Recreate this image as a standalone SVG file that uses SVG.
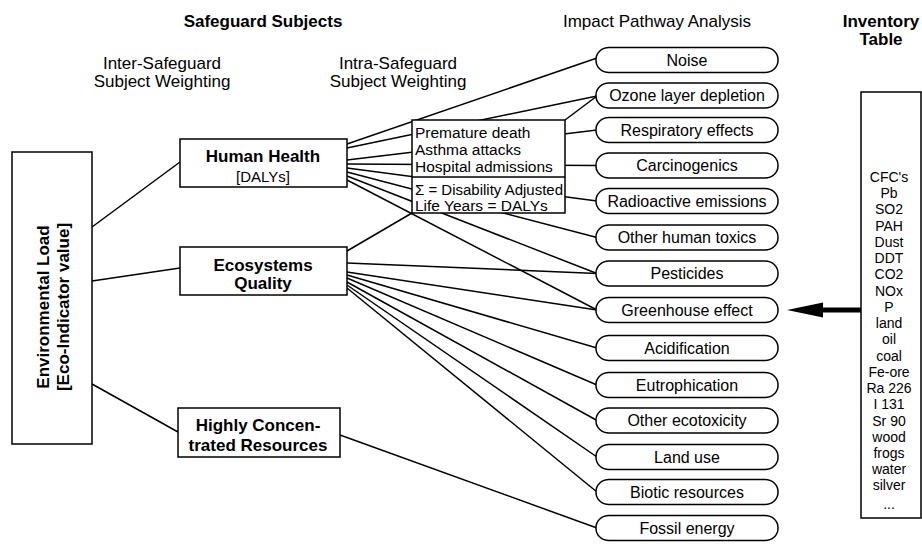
<svg xmlns="http://www.w3.org/2000/svg" width="922" height="550" viewBox="0 0 922 550">
<style>
text{font-family:"Liberation Sans",Arial,sans-serif;fill:#000}
.h{font-size:17px;font-weight:bold}
.r{font-size:17px}
.b{font-size:17px;font-weight:bold}
.lbl{font-size:16px}
.pd{font-size:15.5px}
.inv{font-size:14px}
.box{fill:#fff;stroke:#000;stroke-width:1.5}
.imp{fill:#fff;stroke:#000;stroke-width:1.5}
.c line{stroke:#000;stroke-width:1.5;fill:none}
.m{text-anchor:middle}
</style>
<rect width="922" height="550" fill="#fff"/>
<g id="headers">
<text class="h m" x="263" y="27">Safeguard Subjects</text>
<text class="r m" x="162" y="69">Inter-Safeguard</text>
<text class="r m" x="162" y="87">Subject Weighting</text>
<text class="r m" x="398" y="69">Intra-Safeguard</text>
<text class="r m" x="398" y="87">Subject Weighting</text>
<text class="r m" x="657" y="27">Impact Pathway Analysis</text>
<text class="h m" x="881" y="27">Inventory</text>
<text class="h m" x="881" y="45">Table</text>
</g>
<g class="c" id="connectors">
<line x1="92" y1="227" x2="180" y2="162"/>
<line x1="92" y1="281" x2="180" y2="268"/>
<line x1="92" y1="384" x2="178" y2="432"/>
<line x1="347" y1="144" x2="597" y2="58"/>
<line x1="347" y1="148" x2="597" y2="96"/>
<line x1="347" y1="160" x2="597" y2="130"/>
<line x1="347" y1="164" x2="597" y2="165.5"/>
<line x1="347" y1="168" x2="597" y2="201"/>
<line x1="347" y1="172" x2="597" y2="237.5"/>
<line x1="347" y1="176" x2="597" y2="273.5"/>
<line x1="347" y1="180" x2="597" y2="310"/>
<line x1="565" y1="120" x2="597" y2="96"/>
<line x1="347" y1="251" x2="412" y2="213"/>
<line x1="347" y1="263" x2="597" y2="273.5"/>
<line x1="347" y1="272" x2="597" y2="310"/>
<line x1="347" y1="275" x2="597" y2="348"/>
<line x1="347" y1="278" x2="597" y2="385"/>
<line x1="347" y1="282" x2="597" y2="420.5"/>
<line x1="347" y1="285" x2="597" y2="457"/>
<line x1="347" y1="288" x2="597" y2="492"/>
<line x1="340" y1="435" x2="597" y2="528"/>
<line x1="822" y1="310" x2="861" y2="310" style="stroke-width:5"/>
<polygon points="787,310 823,302.5 823,317.5" fill="#000"/>
</g>
<g id="env-load">
<rect class="box" x="12" y="152" width="80" height="292"/>
<text class="b m" transform="translate(49,307) rotate(-90)">Environmental Load</text>
<text class="b m" transform="translate(69,307) rotate(-90)">[Eco-Indicator value]</text>
</g>
<g id="human-health">
<rect class="box" x="180" y="139" width="167" height="48"/>
<text class="b m" x="263" y="162">Human Health</text>
<text class="m" x="263" y="182" style="font-size:15px">[DALYs]</text>
</g>
<g id="ecosystems">
<rect class="box" x="180" y="247" width="167" height="48"/>
<text class="b m" x="263" y="271">Ecosystems</text>
<text class="b m" x="263" y="289">Quality</text>
</g>
<g id="resources">
<rect class="box" x="178" y="408" width="162" height="49"/>
<text class="b m" x="258" y="431">Highly Concen-</text>
<text class="b m" x="258" y="451">trated Resources</text>
</g>
<g id="dalys-box">
<rect class="box" x="412" y="120" width="153" height="93"/>
<line x1="412" y1="177" x2="565" y2="177" stroke="#000" stroke-width="1.5"/>
<text class="pd" x="415" y="138">Premature death</text>
<text class="pd" x="415" y="155">Asthma attacks</text>
<text class="pd" x="415" y="172">Hospital admissions</text>
<text class="pd" x="415" y="195" textLength="148" lengthAdjust="spacingAndGlyphs">Σ = Disability Adjusted</text>
<text class="pd" x="415" y="211">Life Years = DALYs</text>
</g>
<g id="impact-noise"><rect class="imp" x="596" y="47.5" width="182" height="25" rx="13" ry="12"/><text class="lbl m" x="687" y="65.5">Noise</text></g>
<g id="impact-ozone"><rect class="imp" x="596" y="83" width="182" height="25" rx="13" ry="12"/><text class="lbl m" x="687" y="101">Ozone layer depletion</text></g>
<g id="impact-respiratory"><rect class="imp" x="596" y="117.5" width="182" height="25" rx="13" ry="12"/><text class="lbl m" x="687" y="135.5">Respiratory effects</text></g>
<g id="impact-carcinogenics"><rect class="imp" x="596" y="153" width="182" height="25" rx="13" ry="12"/><text class="lbl m" x="687" y="171">Carcinogenics</text></g>
<g id="impact-radioactive"><rect class="imp" x="596" y="188.5" width="182" height="25" rx="13" ry="12"/><text class="lbl m" x="687" y="206.5">Radioactive emissions</text></g>
<g id="impact-otherhuman"><rect class="imp" x="596" y="225" width="182" height="25" rx="13" ry="12"/><text class="lbl m" x="687" y="243">Other human toxics</text></g>
<g id="impact-pesticides"><rect class="imp" x="596" y="261" width="182" height="25" rx="13" ry="12"/><text class="lbl m" x="687" y="279">Pesticides</text></g>
<g id="impact-greenhouse"><rect class="imp" x="596" y="297.5" width="182" height="25" rx="13" ry="12"/><text class="lbl m" x="687" y="315.5">Greenhouse effect</text></g>
<g id="impact-acidification"><rect class="imp" x="596" y="335.5" width="182" height="25" rx="13" ry="12"/><text class="lbl m" x="687" y="353.5">Acidification</text></g>
<g id="impact-eutrophication"><rect class="imp" x="596" y="372.5" width="182" height="25" rx="13" ry="12"/><text class="lbl m" x="687" y="390.5">Eutrophication</text></g>
<g id="impact-othereco"><rect class="imp" x="596" y="408" width="182" height="25" rx="13" ry="12"/><text class="lbl m" x="687" y="426">Other ecotoxicity</text></g>
<g id="impact-landuse"><rect class="imp" x="596" y="444.5" width="182" height="25" rx="13" ry="12"/><text class="lbl m" x="687" y="462.5">Land use</text></g>
<g id="impact-biotic"><rect class="imp" x="596" y="479.5" width="182" height="25" rx="13" ry="12"/><text class="lbl m" x="687" y="497.5">Biotic resources</text></g>
<g id="impact-fossil"><rect class="imp" x="596" y="515.5" width="182" height="25" rx="13" ry="12"/><text class="lbl m" x="687" y="533.5">Fossil energy</text></g>
<g id="inventory">
<rect class="box" x="861" y="92" width="60" height="426"/>
<text class="inv m" x="889" y="182">CFC's</text>
<text class="inv m" x="889" y="198">Pb</text>
<text class="inv m" x="889" y="214">SO2</text>
<text class="inv m" x="889" y="231">PAH</text>
<text class="inv m" x="889" y="247">Dust</text>
<text class="inv m" x="889" y="263">DDT</text>
<text class="inv m" x="889" y="279">CO2</text>
<text class="inv m" x="889" y="296">NOx</text>
<text class="inv m" x="889" y="312">P</text>
<text class="inv m" x="889" y="328">land</text>
<text class="inv m" x="889" y="344">oil</text>
<text class="inv m" x="889" y="361">coal</text>
<text class="inv m" x="889" y="377">Fe-ore</text>
<text class="inv m" x="889" y="393">Ra 226</text>
<text class="inv m" x="889" y="409">I 131</text>
<text class="inv m" x="889" y="426">Sr 90</text>
<text class="inv m" x="889" y="442">wood</text>
<text class="inv m" x="889" y="458">frogs</text>
<text class="inv m" x="889" y="474">water</text>
<text class="inv m" x="889" y="490">silver</text>
<text class="inv m" x="889" y="509">...</text>
</g>
</svg>
